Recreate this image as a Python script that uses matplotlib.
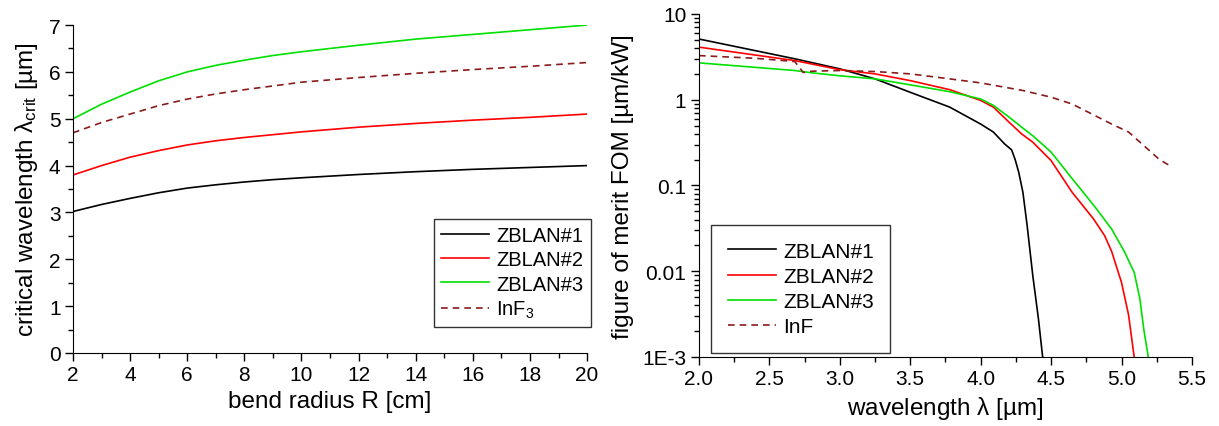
import numpy as np
import matplotlib
matplotlib.use("Agg")
import matplotlib.pyplot as plt
from matplotlib.ticker import (FixedLocator, FixedFormatter, MultipleLocator,
                               LogLocator, NullFormatter, FormatStrFormatter)

plt.rcParams['font.family'] = ['Liberation Sans', 'DejaVu Sans']
plt.rcParams['mathtext.fontset'] = 'custom'
plt.rcParams['mathtext.rm'] = 'Liberation Sans'
plt.rcParams['mathtext.it'] = 'Liberation Sans'

# Critical wavelength vs. bend radius
radius_cm = [2, 3, 4, 5, 6, 7, 8, 9, 10, 12, 14, 16, 18, 20]
crit_zblan1 = [3.02, 3.17, 3.30, 3.42, 3.52, 3.59, 3.65, 3.70, 3.74, 3.81, 3.87, 3.92, 3.96, 4.00]
crit_zblan2 = [3.80, 4.00, 4.18, 4.32, 4.44, 4.53, 4.60, 4.66, 4.72, 4.82, 4.90, 4.97, 5.03, 5.10]
crit_zblan3 = [5.00, 5.31, 5.57, 5.81, 6.00, 6.14, 6.25, 6.35, 6.43, 6.57, 6.70, 6.80, 6.90, 7.00]
crit_inf3 = [4.70, 4.92, 5.10, 5.28, 5.42, 5.53, 5.62, 5.70, 5.78, 5.88, 5.97, 6.05, 6.12, 6.20]

# Figure of merit vs. wavelength
wl_zblan1 = [2.0, 2.68, 3.0, 3.25, 3.5, 3.78, 4.0, 4.09, 4.17, 4.22, 4.245, 4.27, 4.30, 4.33, 4.37, 4.41, 4.44]
fom_zblan1 = [5.1, 3.0, 2.29, 1.75, 1.22, 0.82, 0.52, 0.42, 0.305, 0.26, 0.20, 0.143, 0.083, 0.034, 0.0089, 0.0028, 0.001]
wl_zblan2 = [2.0, 2.68, 3.0, 3.25, 3.5, 3.78, 4.0, 4.09, 4.2, 4.29, 4.37, 4.5, 4.65, 4.80, 4.88, 4.93, 5.0, 5.05, 5.09]
fom_zblan2 = [4.1, 2.86, 2.24, 2.0, 1.67, 1.31, 0.98, 0.82, 0.55, 0.40, 0.32, 0.195, 0.083, 0.041, 0.026, 0.017, 0.0074, 0.0031, 0.001]
wl_zblan3 = [2.0, 2.68, 2.8, 3.0, 3.25, 3.5, 3.78, 4.0, 4.09, 4.2, 4.29, 4.37, 4.5, 4.65, 4.82, 4.93, 5.02, 5.09, 5.13, 5.16, 5.19]
fom_zblan3 = [2.69, 2.19, 2.06, 1.9, 1.75, 1.49, 1.24, 1.02, 0.86, 0.63, 0.48, 0.38, 0.245, 0.12, 0.054, 0.031, 0.017, 0.0097, 0.0048, 0.0020, 0.001]
wl_inf = [2.0, 2.4, 2.68, 2.74, 2.8, 3.0, 3.25, 3.5, 3.78, 4.0, 4.3, 4.5, 4.65, 4.93, 5.05, 5.16, 5.27, 5.36]
fom_inf = [3.27, 3.04, 2.79, 2.08, 2.15, 2.19, 2.13, 2.0, 1.75, 1.57, 1.28, 1.07, 0.89, 0.52, 0.42, 0.29, 0.20, 0.164]

series_labels = ['ZBLAN#1', 'ZBLAN#2', 'ZBLAN#3']
dark_red = '#8b1a1a'
colors = ['black', '#ff0000', '#00e000']

fig = plt.figure(figsize=(12.19, 4.27), dpi=100)
ax1 = fig.add_axes([0.0599, 0.171, 0.4217, 0.768])
ax2 = fig.add_axes([0.5734, 0.1616, 0.4044, 0.8034])

for ax in (ax1, ax2):
    ax.spines['top'].set_visible(False)
    ax.spines['right'].set_visible(False)
    ax.tick_params(which='both', direction='out', labelsize=15, width=1, pad=3)
    ax.tick_params(which='major', length=6)
    ax.tick_params(which='minor', length=3.5)

# Left panel
for y, c, lab in zip([crit_zblan1, crit_zblan2, crit_zblan3], colors, series_labels):
    ax1.plot(radius_cm, y, color=c, lw=1.2, label=lab)
ax1.plot(radius_cm, crit_inf3, color=dark_red, lw=1.2, ls=(0, (4, 3)), label='InF$_3$')
ax1.set_xlim(2, 20)
ax1.set_ylim(0, 7)
ax1.xaxis.set_major_locator(MultipleLocator(2))
ax1.xaxis.set_minor_locator(MultipleLocator(1))
ax1.yaxis.set_major_locator(MultipleLocator(1))
ax1.yaxis.set_minor_locator(MultipleLocator(0.5))
ax1.set_xlabel('bend radius R [cm]', fontsize=17.5, labelpad=4)
ax1.set_ylabel('critical wavelength $\\lambda_{\\rm crit}$ [µm]', fontsize=17.5, labelpad=6)
leg1 = ax1.legend(loc='upper left', bbox_to_anchor=(434 / 1219, 1 - 220 / 427),
                  bbox_transform=fig.transFigure, borderaxespad=0,
                  fontsize=14.5, frameon=True, fancybox=False, edgecolor='black',
                  handlelength=2.4, handletextpad=0.35, labelspacing=0.26,
                  borderpad=0.35)
leg1.get_frame().set_linewidth(1.0)

# Right panel
for x, y, c, lab in zip([wl_zblan1, wl_zblan2, wl_zblan3], [fom_zblan1, fom_zblan2, fom_zblan3], colors, series_labels):
    ax2.plot(x, y, color=c, lw=1.2, label=lab)
ax2.plot(wl_inf, fom_inf, color=dark_red, lw=1.2, ls=(0, (4, 3)), label='InF')
ax2.set_yscale('log')
ax2.set_xlim(2.0, 5.5)
ax2.set_ylim(1e-3, 10)
ax2.xaxis.set_major_locator(MultipleLocator(0.5))
ax2.xaxis.set_minor_locator(MultipleLocator(0.25))
ax2.xaxis.set_major_formatter(FormatStrFormatter('%.1f'))
ax2.yaxis.set_major_locator(FixedLocator([1e-3, 1e-2, 1e-1, 1, 10]))
ax2.yaxis.set_major_formatter(FixedFormatter(['1E-3', '0.01', '0.1', '1', '10']))
ax2.yaxis.set_minor_locator(LogLocator(base=10, subs=np.arange(2, 10)))
ax2.yaxis.set_minor_formatter(NullFormatter())
ax2.set_xlabel('wavelength $\\lambda$ [µm]', fontsize=17.5, labelpad=4)
ax2.set_ylabel('figure of merit FOM [µm/kW]', fontsize=17.5, labelpad=6)
leg2 = ax2.legend(loc='upper left', bbox_to_anchor=(711 / 1219, 1 - 226 / 427),
                  bbox_transform=fig.transFigure, borderaxespad=0,
                  fontsize=15, frameon=True, fancybox=False, edgecolor='black',
                  handlelength=2.3, handletextpad=0.35, labelspacing=0.3,
                  borderpad=0.8)
leg2.get_frame().set_linewidth(1.0)

fig.savefig('out.png', dpi=100)
